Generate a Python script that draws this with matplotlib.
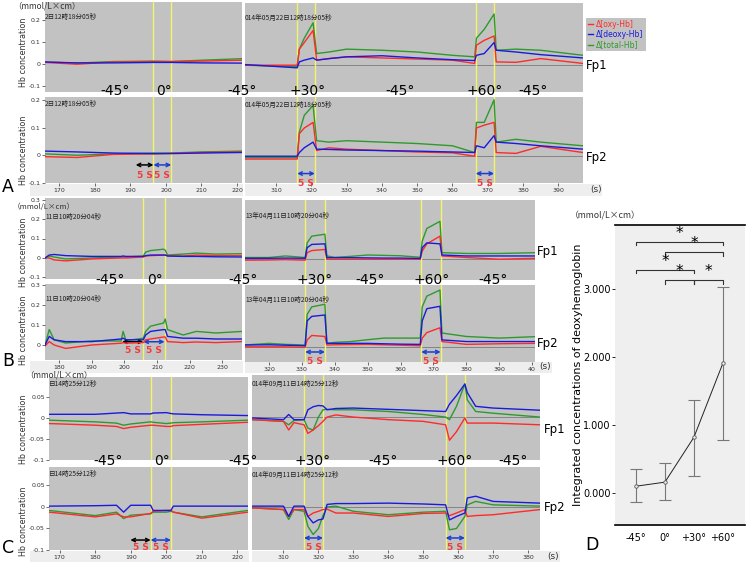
import matplotlib
matplotlib.use("Agg")
import matplotlib.pyplot as plt
from matplotlib.lines import Line2D
from matplotlib.patches import Rectangle

plt.rcParams['font.family'] = ['DejaVu Sans', 'Noto Sans CJK JP']
CJK = ['Noto Sans CJK JP', 'DejaVu Sans']

W, H = 747, 562
fig = plt.figure(figsize=(W / 100, H / 100), dpi=100)
fig.patch.set_facecolor('white')

RED, BLUE, GREEN = '#ff2a2a', '#1a1adc', '#2e9a2e'
PLOT_BG = '#c2c2c2'
YEL = '#f4f46a'

# ---------------- data: panel A ----------------
A_left_t = [166, 175, 185, 196.5, 201.5, 210, 221.4]
A_left1_oxy = [0.008, 0.0, 0.01, 0.012, 0.012, 0.014, 0.018]
A_left1_deoxy = [0.01, 0.006, 0.006, 0.008, 0.008, 0.006, 0.005]
A_left1_total = [0.01, 0.005, 0.012, 0.014, 0.012, 0.018, 0.025]
A_left2_oxy = [-0.005, -0.008, 0.003, 0.005, 0.007, 0.01, 0.012]
A_left2_deoxy = [0.015, 0.012, 0.008, 0.006, 0.006, 0.008, 0.01]
A_left2_total = [0.005, 0.0, 0.005, 0.008, 0.008, 0.012, 0.015]

A_right_t = [301, 316, 316.6, 318, 320.5, 321.5, 325, 330, 340, 350, 360, 366.3, 366.8, 369, 371.8, 372.4, 378, 385, 397]
A_right1_oxy = [-0.003, -0.003, 0.07, 0.10, 0.155, 0.02, 0.027, 0.035, 0.03, 0.025, 0.02, 0.005, 0.088, 0.11, 0.13, 0.012, 0.01, 0.027, 0.005]
A_right1_deoxy = [0.0, -0.015, 0.012, 0.02, 0.03, 0.02, 0.027, 0.035, 0.04, 0.03, 0.022, 0.018, 0.042, 0.05, 0.1, 0.065, 0.057, 0.045, 0.03]
A_right1_total = [-0.003, -0.01, 0.07, 0.12, 0.19, 0.05, 0.057, 0.07, 0.065, 0.057, 0.042, 0.035, 0.12, 0.16, 0.23, 0.065, 0.07, 0.065, 0.042]
A_right2_oxy = [-0.01, -0.01, 0.08, 0.10, 0.12, 0.02, 0.03, 0.025, 0.02, 0.015, 0.012, 0.0, 0.1, 0.11, 0.12, 0.013, 0.01, 0.035, 0.013]
A_right2_deoxy = [0.0, 0.0, 0.013, 0.03, 0.05, 0.025, 0.024, 0.022, 0.02, 0.018, 0.015, 0.013, 0.037, 0.03, 0.073, 0.05, 0.045, 0.037, 0.025]
A_right2_total = [-0.005, -0.005, 0.085, 0.145, 0.18, 0.055, 0.05, 0.055, 0.05, 0.045, 0.037, 0.013, 0.12, 0.12, 0.2, 0.05, 0.06, 0.05, 0.037]

# ---------------- data: panel B ----------------
B_left_t = [175.7, 177, 178.5, 182, 190, 199, 199.6, 200.5, 205.8, 206.5, 208, 212, 212.5, 213.2, 218, 222, 228, 236]
B_left1_oxy = [0.0, 0.0, -0.01, -0.015, -0.005, 0.0, 0.0, 0.0, 0.005, 0.01, 0.012, 0.015, 0.015, 0.012, 0.01, 0.015, 0.012, 0.012]
B_left1_deoxy = [0.0, 0.015, 0.018, 0.012, 0.008, 0.008, 0.01, 0.008, 0.008, 0.012, 0.015, 0.015, 0.015, 0.01, 0.008, 0.008, 0.006, 0.005]
B_left1_total = [0.0, 0.01, 0.005, -0.005, 0.0, 0.005, 0.008, 0.005, 0.01, 0.03, 0.038, 0.045, 0.04, 0.015, 0.02, 0.025, 0.02, 0.022]
B_left2_oxy = [-0.005, 0.017, 0.0, -0.017, 0.0, 0.009, 0.012, 0.009, 0.012, 0.026, 0.03, 0.04, 0.04, 0.017, 0.012, 0.015, 0.012, 0.017]
B_left2_deoxy = [0.0, 0.043, 0.026, 0.017, 0.017, 0.03, 0.034, 0.026, 0.026, 0.05, 0.068, 0.077, 0.077, 0.043, 0.034, 0.034, 0.03, 0.03]
B_left2_total = [0.0, 0.077, 0.026, 0.01, 0.02, 0.02, 0.068, 0.022, 0.034, 0.068, 0.094, 0.11, 0.13, 0.077, 0.05, 0.068, 0.06, 0.068]

B_right_t = [312.7, 320, 325, 331, 331.6, 333, 337, 337.6, 340, 345, 350, 355, 360, 366, 366.6, 368, 372, 372.6, 380, 390, 400.9]
B_right1_oxy = [-0.005, -0.004, -0.002, -0.005, 0.034, 0.045, 0.051, 0.0, 0.0, 0.0, 0.0, 0.0, 0.0, 0.0, 0.043, 0.08, 0.12, 0.017, 0.009, 0.0, 0.005]
B_right1_deoxy = [0.005, 0.005, 0.006, 0.005, 0.06, 0.077, 0.08, 0.008, 0.008, 0.008, 0.007, 0.006, 0.006, 0.004, 0.06, 0.085, 0.08, 0.022, 0.017, 0.017, 0.017]
B_right1_total = [0.009, 0.009, 0.017, 0.009, 0.085, 0.12, 0.13, 0.017, 0.01, 0.015, 0.022, 0.02, 0.018, 0.01, 0.094, 0.16, 0.197, 0.034, 0.03, 0.03, 0.034]
B_right2_oxy = [0.0, 0.0, 0.0, -0.003, 0.034, 0.056, 0.051, 0.009, 0.01, 0.011, 0.012, 0.01, 0.008, 0.005, 0.043, 0.07, 0.094, 0.026, 0.012, 0.015, 0.017]
B_right2_deoxy = [0.009, 0.01, 0.008, 0.005, 0.128, 0.15, 0.157, 0.017, 0.017, 0.017, 0.017, 0.015, 0.013, 0.012, 0.128, 0.188, 0.2, 0.034, 0.026, 0.026, 0.026]
B_right2_total = [0.009, 0.017, 0.012, 0.009, 0.16, 0.197, 0.21, 0.017, 0.022, 0.026, 0.035, 0.043, 0.043, 0.043, 0.197, 0.25, 0.28, 0.068, 0.051, 0.043, 0.05]

# ---------------- data: panel C ----------------
C_left_t = [167, 180, 186, 188, 190, 195.6, 196.3, 200, 201.3, 202, 210, 223]
C_left1_oxy = [-0.013, -0.017, -0.02, -0.025, -0.022, -0.017, -0.017, -0.02, -0.02, -0.018, -0.015, -0.01]
C_left1_deoxy = [0.009, 0.009, 0.012, 0.013, 0.01, 0.01, 0.012, 0.013, 0.011, 0.01, 0.008, 0.006]
C_left1_total = [-0.005, -0.009, -0.012, -0.017, -0.014, -0.009, -0.01, -0.013, -0.012, -0.011, -0.009, -0.005]
C_left2_oxy = [-0.012, -0.023, -0.016, -0.023, -0.023, -0.015, -0.01, -0.008, -0.008, -0.012, -0.026, -0.012]
C_left2_deoxy = [0.002, 0.003, 0.004, -0.012, 0.004, 0.004, -0.008, -0.008, -0.008, 0.002, 0.002, 0.002]
C_left2_total = [-0.008, -0.02, -0.012, -0.027, -0.019, -0.016, -0.012, -0.012, -0.01, -0.012, -0.023, -0.008]

C_right_t = [301, 310, 311.5, 313, 315.9, 317, 318.5, 320, 321.3, 322.5, 325, 330, 340, 350, 356.4, 357.5, 359.5, 361.9, 362.6, 365, 370, 383.4]
C_right1_oxy = [-0.006, -0.01, -0.03, -0.013, -0.018, -0.038, -0.03, -0.02, -0.01, 0.0, 0.005, 0.0, -0.006, -0.01, -0.018, -0.054, -0.034, -0.002, -0.014, -0.014, -0.014, -0.018]
C_right1_deoxy = [-0.002, -0.006, 0.006, -0.006, -0.006, 0.017, 0.024, 0.027, 0.026, 0.017, 0.02, 0.021, 0.018, 0.015, 0.013, 0.03, 0.05, 0.077, 0.057, 0.025, 0.021, 0.016]
C_right1_total = [-0.006, -0.01, -0.018, -0.008, -0.006, -0.026, -0.03, 0.0, 0.017, 0.018, 0.017, 0.017, 0.013, 0.006, 0.0, -0.006, 0.025, 0.077, 0.04, 0.013, 0.009, 0.0]
C_right2_oxy = [-0.002, -0.006, -0.022, -0.006, -0.006, -0.022, -0.014, -0.01, -0.006, -0.005, -0.014, -0.014, -0.022, -0.015, -0.014, -0.02, -0.014, -0.006, -0.022, -0.02, -0.018, -0.006]
C_right2_deoxy = [0.002, 0.002, -0.022, 0.002, 0.002, -0.022, -0.037, -0.03, -0.028, 0.006, 0.008, 0.008, 0.009, 0.007, 0.005, -0.03, -0.022, -0.014, 0.021, 0.025, 0.013, 0.009]
C_right2_total = [-0.002, -0.006, -0.029, -0.006, -0.01, -0.045, -0.064, -0.05, -0.02, 0.0, 0.002, -0.01, -0.018, -0.012, -0.01, -0.053, -0.05, -0.022, 0.005, 0.013, 0.005, 0.002]

# event (marker) times
A_left_events = [196.5, 201.5]
A_right_events = [316, 321, 366.6, 371.8]
B_left_events = [205.8, 212.5]
B_right_events = [331, 337, 366.3, 372.2]
C_left_events = [195.6, 201.3]
C_right_events = [315.9, 321.3, 356.4, 361.9]

# ---------------- data: panel D ----------------
D_categories = ['-45°', '0°', '+30°', '+60°']
D_means = [0.10, 0.16, 0.82, 1.91]
D_upper = [0.35, 0.44, 1.37, 3.03]
D_lower = [-0.13, -0.10, 0.25, 0.78]
D_brackets = [(0, 3, 3.69), (1, 3, 3.54), (0, 2, 3.28), (1, 2, 3.13), (2, 3, 3.13)]

legend_labels = ['Δ[oxy-Hb]', 'Δ[deoxy-Hb]', 'Δ[total-Hb]']


def px_axes(x0, y0, x1, y1):
    return fig.add_axes([x0 / W, 1 - y1 / H, (x1 - x0) / W, (y1 - y0) / H])


def ftext(x, y, s, **kw):
    fig.text(x / W, 1 - y / H, s, **kw)


def px_rect(x0, y0, x1, y1, color):
    fig.patches.append(Rectangle((x0 / W, 1 - y1 / H), (x1 - x0) / W, (y1 - y0) / H,
                                 transform=fig.transFigure, facecolor=color,
                                 edgecolor='none', zorder=-5))


# light strips behind the time-axis labels
for box in ((30, 184, 243, 196), (245, 184, 602, 196), (30, 361, 243, 373), (245, 362, 552, 373),
            (30, 551, 249, 562), (252, 551, 560, 562)):
    px_rect(*box, '#eeeeee')


def trace_axes(box, t, oxy, deoxy, total, xlim, ylim, events, yticks=None,
               xticks=None, xticklabels=None, date=None, baseline=False, date_y=0.83):
    ax = px_axes(*box)
    ax.set_zorder(2)
    ax.set_facecolor(PLOT_BG)
    for s in ax.spines.values():
        s.set_visible(False)
    if baseline:
        ax.axhline(0, color='#7a7a7a', lw=0.6, zorder=1)
    for e in events:
        ax.axvline(e, color=YEL, lw=1.0, zorder=2)
    ax.plot(t, total, color=GREEN, lw=1.0, zorder=3)
    ax.plot(t, oxy, color=RED, lw=1.0, zorder=4)
    ax.plot(t, deoxy, color=BLUE, lw=1.0, zorder=5)
    ax.set_xlim(*xlim)
    ax.set_ylim(*ylim)
    if yticks is not None:
        ax.set_yticks(yticks)
        ax.set_yticklabels([('%g' % v) for v in yticks])
        ax.tick_params(axis='y', labelsize=4.5, length=2, width=0.5, pad=1, colors='#333333')
    else:
        ax.set_yticks([])
    if xticks is not None:
        ax.set_xticks(xticks)
        ax.set_xticklabels(xticklabels if xticklabels else [str(v) for v in xticks])
        ax.tick_params(axis='x', labelsize=4.5, length=2, width=0.5, pad=1.5, colors='#333333')
    else:
        ax.set_xticks([])
    if date:
        ax.text(0.0, date_y, date, transform=ax.transAxes, fontsize=4.8, family=CJK,
                color='#222222', va='center', ha='left')
    return ax


def arrows(ax, t_on, t_off, frac_arrow, frac_text, with_black):
    if with_black:
        ax.annotate('', xy=(t_on - (t_off - t_on), frac_arrow), xytext=(t_on, frac_arrow),
                    xycoords=('data', 'axes fraction'), textcoords=('data', 'axes fraction'),
                    arrowprops=dict(arrowstyle='<->', color='black', lw=1.1,
                                    mutation_scale=6, shrinkA=0, shrinkB=0),
                    annotation_clip=False)
        ax.text(t_on - (t_off - t_on) / 2, frac_text, '5 S', color='#f03c3c', fontsize=6.5,
                fontweight='bold', ha='center', va='center', transform=ax.get_xaxis_transform(),
                clip_on=False)
    ax.annotate('', xy=(t_on, frac_arrow), xytext=(t_off, frac_arrow),
                xycoords=('data', 'axes fraction'), textcoords=('data', 'axes fraction'),
                arrowprops=dict(arrowstyle='<->', color='#1a3fd0', lw=1.1,
                                mutation_scale=6, shrinkA=0, shrinkB=0),
                annotation_clip=False)
    ax.text((t_on + t_off) / 2, frac_text, '5 S', color='#f03c3c', fontsize=6.5,
            fontweight='bold', ha='center', va='center', transform=ax.get_xaxis_transform(),
            clip_on=False)


# ================= Panel A =================
A_yl1 = (-0.125, 0.28)
A_yl2 = (-0.095, 0.21)
trace_axes((45, 2, 242, 92), A_left_t, A_left1_oxy, A_left1_deoxy, A_left1_total,
           (166, 221.4), A_yl1, A_left_events, yticks=[0.2, 0.1, 0, -0.1], date='2日12時18分05秒')
axA2 = trace_axes((45, 97, 242, 183), A_left_t, A_left2_oxy, A_left2_deoxy, A_left2_total,
                  (166, 221.4), A_yl2, A_left_events, yticks=[0.2, 0.1, 0, -0.1],
                  xticks=[170, 180, 190, 200, 210, 220], date='2日12時18分05秒', date_y=0.92)
arrows(axA2, A_left_events[0], A_left_events[1], 0.21, 0.09, True)
trace_axes((245, 3, 583, 92), A_right_t, A_right1_oxy, A_right1_deoxy, A_right1_total,
           (301.2, 397), A_yl1, A_right_events, date='014年05月22日12時18分05秒', baseline=True)
axA4 = trace_axes((245, 97, 583, 183), A_right_t, A_right2_oxy, A_right2_deoxy, A_right2_total,
                  (301.2, 397), A_yl2, A_right_events,
                  xticks=[310, 320, 330, 340, 350, 360, 370, 380, 390],
                  date='014年05月22日12時18分05秒', baseline=True, date_y=0.91)
arrows(axA4, A_right_events[0], A_right_events[1], 0.11, 0.0, False)
arrows(axA4, A_right_events[2], A_right_events[3], 0.11, 0.0, False)

# ================= Panel B =================
B_yl1 = (-0.108, 0.308)
B_yl2 = (-0.075, 0.305)
trace_axes((45, 198, 242, 279), B_left_t, B_left1_oxy, B_left1_deoxy, B_left1_total,
           (175.7, 236), B_yl1, B_left_events, yticks=[0.3, 0.2, 0.1, 0, -0.1],
           date='11日10時20分04秒', date_y=0.77)
axB2 = trace_axes((45, 284, 242, 360), B_left_t, B_left2_oxy, B_left2_deoxy, B_left2_total,
                  (175.7, 236), B_yl2, B_left_events, yticks=[0.3, 0.2, 0.1, 0],
                  xticks=[180, 190, 200, 210, 220, 230], date='11日10時20分04秒', date_y=0.8)
arrows(axB2, B_left_events[0], B_left_events[0] + 6.5, 0.24, 0.12, True)
trace_axes((245, 200, 535, 280), B_right_t, B_right1_oxy, B_right1_deoxy, B_right1_total,
           (312.7, 400.9), B_yl1, B_right_events, date='13年04月11日10時20分04秒', baseline=True,
           date_y=0.8)
axB4 = trace_axes((245, 285, 535, 362), B_right_t, B_right2_oxy, B_right2_deoxy, B_right2_total,
                  (312.7, 400.9), B_yl2, B_right_events,
                  xticks=[320, 330, 340, 350, 360, 370, 380, 390, 400],
                  xticklabels=['320', '330', '340', '350', '360', '370', '380', '390', '40'],
                  date='13年04月11日10時20分04秒', baseline=True, date_y=0.8)
arrows(axB4, B_right_events[0], B_right_events[1], 0.13, 0.0, False)
arrows(axB4, B_right_events[2], B_right_events[3], 0.13, 0.0, False)

# ================= Panel C =================
C_yl1 = (-0.1, 0.098)
C_yl2 = (-0.1, 0.093)
trace_axes((49, 377, 248, 460), C_left_t, C_left1_oxy, C_left1_deoxy, C_left1_total,
           (167, 223), C_yl1, C_left_events, yticks=[0.05, 0, -0.05, -0.1], date='日14時25分12秒',
           date_y=0.92)
axC2 = trace_axes((49, 467, 248, 550), C_left_t, C_left2_oxy, C_left2_deoxy, C_left2_total,
                  (167, 223), C_yl2, C_left_events, yticks=[0.05, 0, -0.05, -0.1],
                  xticks=[170, 180, 190, 200, 210, 220], date='日14時25分12秒', date_y=0.92)
arrows(axC2, C_left_events[0], C_left_events[1], 0.12, 0.025, True)
trace_axes((252, 375, 540, 460), C_right_t, C_right1_oxy, C_right1_deoxy, C_right1_total,
           (301, 383.4), C_yl1, C_right_events, date='014年09月11日14時25分12秒', baseline=True,
           date_y=0.9)
axC4 = trace_axes((252, 467, 540, 550), C_right_t, C_right2_oxy, C_right2_deoxy, C_right2_total,
                  (301, 383.4), C_yl2, C_right_events,
                  xticks=[310, 320, 330, 340, 350, 360, 370, 380],
                  date='014年09月11日14時25分12秒', baseline=True, date_y=0.9)
arrows(axC4, C_right_events[0], C_right_events[1], 0.145, 0.035, False)
arrows(axC4, C_right_events[2], C_right_events[3], 0.145, 0.035, False)

# ---------------- labels for trace panels ----------------
for yc in (52, 150, 252, 330, 429, 521):
    ftext(23, yc, 'Hb concentration', rotation=90, fontsize=5.8, ha='center', va='center',
          color='#333333')
for x, y, fs in ((13, 6, 6.0), (13, 206.5, 5.5), (25, 375, 6.0)):
    ftext(x, y, '（mmol/L×cm）', fontsize=fs, family=CJK, ha='left', va='center', color='#333333',
          zorder=6)

angle_fs = 10
row_labels = [
    (91, [(115, '-45°'), (164, '0°'), (242, '-45°'), (308, '+30°'), (400, '-45°'),
          (485, '+60°'), (533, '-45°')]),
    (280, [(110, '-45°'), (155, '0°'), (243, '-45°'), (315, '+30°'), (370, '-45°'),
           (432, '+60°'), (493, '-45°')]),
    (461, [(108, '-45°'), (162, '0°'), (243, '-45°'), (313, '+30°'), (383, '-45°'),
           (455, '+60°'), (513, '-45°')]),
]
for y, items in row_labels:
    for x, s in items:
        ftext(x, y, s, fontsize=angle_fs, ha='center', va='center', color='black', zorder=5)

for x, y, s in ((586, 65, 'Fp1'), (586, 158, 'Fp2'), (537, 252, 'Fp1'), (537, 343, 'Fp2'),
                (544, 430, 'Fp1'), (544, 508, 'Fp2')):
    ftext(x, y, s, fontsize=8.5, ha='left', va='center', color='black')

for x, y, s in ((590, 189, '(s)'), (539, 367, '(s)'), (547, 556, '(s)')):
    ftext(x, y, s, fontsize=6.5, ha='left', va='center', color='#333333')

for x, y, s in ((8, 187, 'A'), (8, 361, 'B'), (8, 548, 'C'), (592, 545, 'D')):
    ftext(x, y, s, fontsize=12.5, ha='center', va='center', color='black')

handles = [Line2D([], [], color=c, lw=1) for c in (RED, BLUE, GREEN)]
leg = fig.legend(handles, legend_labels, loc='upper left', bbox_to_anchor=(586 / W, 1 - 18 / H),
                 frameon=True, facecolor='#c2c2c2', edgecolor='none', fancybox=False,
                 fontsize=5.5, handlelength=0.7, borderpad=0.25, labelspacing=0.15,
                 handletextpad=0.4, borderaxespad=0, labelcolor='linecolor', framealpha=1)

# ================= Panel D =================
axD = px_axes(615, 225, 745, 525)
axD.set_facecolor('#efefef')
axD.spines['left'].set_visible(False)
axD.spines['right'].set_visible(False)
axD.spines['top'].set_linewidth(1.2)
axD.spines['bottom'].set_linewidth(1.2)
xs = list(range(len(D_categories)))
yerr = [[m - lo for m, lo in zip(D_means, D_lower)], [hi - m for m, hi in zip(D_means, D_upper)]]
axD.errorbar(xs, D_means, yerr=yerr, fmt='none', ecolor='#777777', elinewidth=0.8,
             capsize=4, capthick=0.8, zorder=2)
axD.plot(xs, D_means, color='#222222', lw=0.7, marker='o', ms=2.5, mfc='#efefef',
         mec='#555555', mew=0.6, zorder=3)
for i0, i1, yb in D_brackets:
    axD.plot([i0, i0, i1, i1], [yb - 0.05, yb, yb, yb - 0.05], color='#333333', lw=0.8, zorder=3)
    axD.text((i0 + i1) / 2, yb + 0.02, '*', fontsize=11, ha='center', va='bottom', color='black')
axD.set_xlim(-0.72, 3.76)
axD.set_ylim(-0.47, 3.94)
axD.set_xticks(xs)
axD.set_xticklabels(D_categories)
axD.set_yticks([0, 1, 2, 3])
axD.set_yticklabels(['%.3f' % v for v in [0, 1, 2, 3]])
axD.tick_params(axis='y', labelsize=7, length=2, width=0.6, pad=1)
axD.tick_params(axis='x', labelsize=7, length=0, pad=6)
axD.set_ylabel('Integrated concentrations of deoxyhemoglobin', fontsize=8, labelpad=0)
ftext(570, 215, '（mmol/L×cm）', fontsize=6.3, family=CJK, ha='left', va='center', color='#333333')

fig.savefig('out.png', dpi=100)
